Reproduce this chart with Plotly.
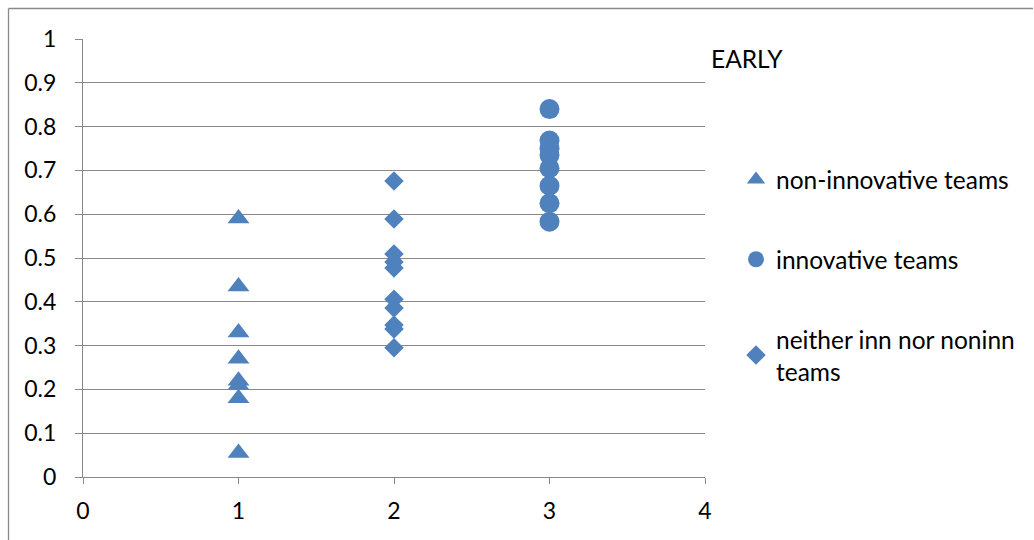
import plotly.graph_objects as go

# Scores per team group (x = group position)
non_innov_x = [1, 1, 1, 1, 1, 1, 1, 1]
non_innov_y = [0.59, 0.435, 0.33, 0.27, 0.22, 0.21, 0.18, 0.055]

innov_x = [3, 3, 3, 3, 3, 3, 3, 3]
innov_y = [0.84, 0.768, 0.75, 0.735, 0.705, 0.665, 0.625, 0.583]

neither_x = [2, 2, 2, 2, 2, 2, 2, 2, 2, 2]
neither_y = [0.676, 0.589, 0.509, 0.491, 0.477, 0.406, 0.386, 0.347, 0.338, 0.295]

x_ticks = [0, 1, 2, 3, 4]
y_ticks = [0, 0.1, 0.2, 0.3, 0.4, 0.5, 0.6, 0.7, 0.8, 0.9, 1]
y_tick_text = ["0", "0.1", "0.2", "0.3", "0.4", "0.5", "0.6", "0.7", "0.8", "0.9", "1"]

BLUE = "#4F81BD"
GRID = "#888888"
FONT = "Lato, 'Open Sans', sans-serif"
FS = 23
FS_LEG = 24.5

fig = go.Figure()
fig.add_trace(go.Scatter(
    x=non_innov_x, y=non_innov_y, mode="markers", name="non-innovative teams",
    legendgroup="a",
    marker=dict(symbol="triangle-up", size=19, color=BLUE, line=dict(width=0)),
))
fig.add_trace(go.Scatter(
    x=innov_x, y=innov_y, mode="markers", name="innovative teams",
    legendgroup="b",
    marker=dict(symbol="circle", size=20, color=BLUE, line=dict(width=0)),
))
fig.add_trace(go.Scatter(
    x=neither_x, y=neither_y, mode="markers", name="neither inn nor noninn<br>teams",
    legendgroup="c",
    marker=dict(symbol="diamond", size=15, color=BLUE, line=dict(width=0)),
))

W, H = 1034, 540
L, R, T, B = 83, 329, 39, 63
pw, ph = W - L - R, H - T - B


def px_x(p):
    return (p - L) / pw


def px_y(p):
    return (H - B - p) / ph


fig.update_layout(
    width=W, height=H,
    margin=dict(l=L, r=R, t=T, b=B),
    paper_bgcolor="white", plot_bgcolor="white",
    font=dict(family=FONT, size=FS, color="#000000"),
    showlegend=True,
    legend=dict(
        x=px_x(736), y=px_y(157), xanchor="left", yanchor="top",
        traceorder="grouped", tracegroupgap=45,
        font=dict(family=FONT, size=FS_LEG, color="#000000"),
        itemsizing="trace", bgcolor="rgba(0,0,0,0)",
    ),
    xaxis=dict(
        range=[0, 4], tickvals=x_ticks, ticktext=[str(v) for v in x_ticks],
        showgrid=False, zeroline=False, showline=True, linecolor=GRID, linewidth=1.3,
        ticks="outside", ticklen=6, tickcolor=GRID, tickwidth=1.3,
        ticklabelstandoff=7,
        tickfont=dict(family=FONT, size=FS), fixedrange=True,
    ),
    yaxis=dict(
        range=[0, 1], tickvals=y_ticks, ticktext=y_tick_text,
        showgrid=True, gridcolor=GRID, gridwidth=1.3, zeroline=False,
        showline=True, linecolor=GRID, linewidth=1.3,
        ticks="outside", ticklen=7, tickcolor=GRID, tickwidth=1.3,
        ticklabelstandoff=14,
        tickfont=dict(family=FONT, size=FS), fixedrange=True,
    ),
    annotations=[dict(
        text="EARLY", xref="paper", yref="paper",
        x=px_x(709), y=px_y(58), xanchor="left", yanchor="middle",
        showarrow=False, font=dict(family=FONT, size=FS_LEG, color="#000000"),
    )],
    shapes=[
        # chart frame (left and top edges)
        dict(type="line", xref="paper", yref="paper",
             x0=px_x(8.5), x1=px_x(8.5), y0=px_y(8.5), y1=px_y(545),
             line=dict(color="#8a8a8a", width=1.3)),
        dict(type="line", xref="paper", yref="paper",
             x0=px_x(8.5), x1=px_x(1033), y0=px_y(8.5), y1=px_y(8.5),
             line=dict(color="#8a8a8a", width=1.3)),
    ],
)

fig.write_html("out.html")
